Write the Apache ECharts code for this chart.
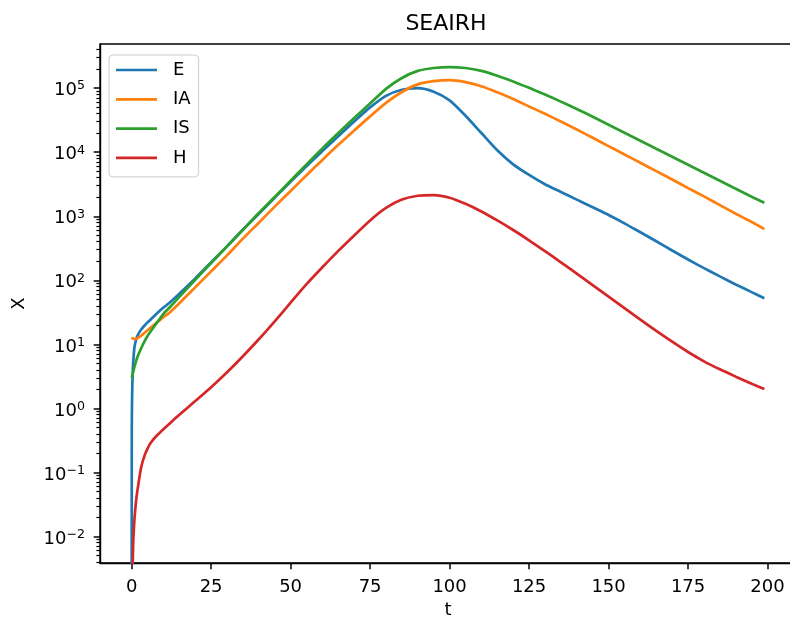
<!DOCTYPE html>
<html><head><meta charset="utf-8">
<script src="https://cdn.jsdelivr.net/npm/echarts@6/dist/echarts.min.js"></script>
<style>html,body{margin:0;padding:0;background:#fff}#c{width:790px;height:617px}</style>
</head><body><div id="c"></div>
<script>
// time points
const t = [0,0.05,0.1,0.2,0.3,0.5,0.8,1,1.5,2,3,4,5,6,8,10,12,15,20,25,30,35,40,45,50,55,60,65,70,75,80,85,90,95,100,105,110,115,120,125,130,135,140,145,150,155,160,165,170,175,180,185,190,195,199];
const seriesNames = ['E','IA','IS','H'];
const E = [0.0001,0.5,1.0,2.1,3.2,5.3,8.3,9.8,12.3,14.2,
  17,19.5,22,24.5,30.5,37.5,45,61.7,
  107,191,339,617,1096,1950,3467,6026,10470,17780,30200,50120,75860,94410,100000,88100,64570,37150,19950,10720,6457,4416,3162,2399,1820,1380,1047,776,562,407,292,211,155,115,86.1,65.3,
  52.5];
const IA = [12.8,12.7,12.6,12.5,12.4,12.3,12.15,12.1,12.2,12.6,
  13.6,15,16.6,18.3,22,26.5,31.5,43.7,
  77.6,138,245,447,794,1413,2483,4365,7586,13030,21880,36310,58880,87100,114800,128800,133400,124500,107200,86100,67610,51880,39810,30200,22650,16790,12450,9226,6839,5070,3758,2754,2042,1496,1096,813,
  631];
const IS = [3.0,3.05,3.1,3.25,3.4,3.7,4.3,4.7,5.7,6.7,
  8.7,11,13.5,16,22,30,38,55,
  102,186,339,617,1122,1995,3589,6457,11480,19950,34280,57540,97720,144500,186200,206500,213800,206500,186200,156700,127400,101200,79430,61660,47320,35890,26920,20180,15140,11350,8511,6383,4786,3589,2692,2018,
  1622];
const H = [0.0001,0.0002,0.0005,0.0015,0.003,0.008,0.016,0.022,0.04,0.06,
  0.12,0.18,0.235,0.29,0.38,0.473,0.582,0.794,
  1.30,2.14,3.67,6.53,12.0,22.9,44.7,87.1,160,288,501,861,1349,1820,2089,2138,1950,1567,1189,861,610,422,285,191,127,84.1,55.6,36.7,24.3,16.2,11.0,7.59,5.43,4.07,3.13,2.43,
  2.0];
// axis ticks
const xTicks = [0,25,50,75,100,125,150,175,200];
const yExponents = [-2,-1,0,1,2,3,4,5];
const xMin = -9.95, xMax = 208.95;
const yMin = 0.00385, yMax = 489800;
const colors = ['#1f77b4','#ff7f0e','#2ca02c','#d62728'];

const FONT = 'DejaVu Sans';
const lmin = Math.log10(yMin), lmax = Math.log10(yMax);
const minorTicks = [];
for (let n = -3; n <= 5; n++) for (let k = 2; k <= 9; k++) {
  const v = n + Math.log10(k);
  if (v > lmin && v < lmax) minorTicks.push(v);
}
const dataSets = [E, IA, IS, H];
const chart = echarts.init(document.getElementById('c'), null, {renderer: 'canvas'});
chart.setOption({
  animation: false,
  backgroundColor: '#fff',
  title: {
    text: 'SEAIRH', left: 446, top: 13, textAlign: 'center', padding: 0,
    textStyle: {fontFamily: FONT, fontSize: 22, fontWeight: 'normal', color: '#000'}
  },
  legend: {
    orient: 'vertical', left: 109, top: 55,
    data: seriesNames,
    icon: 'rect',
    itemWidth: 41, itemHeight: 2.7, itemGap: 11.3,
    padding: [6, 8, 10, 7],
    backgroundColor: 'rgba(255,255,255,0.8)',
    borderColor: '#cccccc', borderWidth: 1, borderRadius: 4,
    textStyle: {fontFamily: FONT, fontSize: 18, lineHeight: 18, color: '#000', padding: [0, 0, 0, 11]}
  },
  grid: {left: 100, top: 44, right: -6, bottom: 54, outerBoundsMode: 'none', containLabel: false,
    show: true, borderColor: '#000', borderWidth: 1.4, backgroundColor: 'transparent'},
  xAxis: {
    type: 'value', min: xMin, max: xMax,
    name: 't', nameLocation: 'middle', nameGap: 36,
    nameTextStyle: {fontFamily: FONT, fontSize: 18, color: '#000'},
    axisLine: {show: true, onZero: false, lineStyle: {color: '#000', width: 1.4}},
    axisTick: {show: true, inside: false, customValues: xTicks, length: 6.3, lineStyle: {color: '#000', width: 1.5}},
    axisLabel: {customValues: xTicks, margin: 15, fontFamily: FONT, fontSize: 18, color: '#000'},
    splitLine: {show: false}
  },
  yAxis: [
    {
      type: 'log', logBase: 10, min: yMin, max: yMax, position: 'left',
      axisLine: {show: true, onZero: false, lineStyle: {color: '#000', width: 1.4}},
      axisTick: {show: false}, axisLabel: {show: false}, splitLine: {show: false}, minorTick: {show: false}
    },
    {
      type: 'value', min: lmin, max: lmax, position: 'left', offset: 0,
      name: 'X', nameLocation: 'middle', nameGap: 72, nameRotate: 90,
      nameTextStyle: {fontFamily: FONT, fontSize: 18, color: '#000'},
      axisLine: {show: false, onZero: false},
      axisTick: {show: true, inside: false, customValues: yExponents, length: 6.3, lineStyle: {color: '#000', width: 1.5}},
      axisLabel: {
        customValues: yExponents, margin: 15, padding: [5, 0, 0, 0],
        formatter: function (v) { const n = Math.round(v); return '{b|10}{s|' + (n < 0 ? '\u2212' + (-n) : n) + '}'; },
        rich: {
          b: {fontFamily: FONT, fontSize: 18, lineHeight: 22, color: '#000'},
          s: {fontFamily: FONT, fontSize: 12.6, lineHeight: 10, verticalAlign: 'top', color: '#000'}
        }
      },
      splitLine: {show: false}
    },
    {
      type: 'value', min: lmin, max: lmax, position: 'left', offset: 0,
      axisLine: {show: false, onZero: false},
      axisTick: {show: true, inside: false, customValues: minorTicks, length: 3.6, lineStyle: {color: '#000', width: 1.2}},
      axisLabel: {show: false, customValues: minorTicks},
      splitLine: {show: false}
    }
  ],
  series: dataSets.map((arr, i) => ({
    name: seriesNames[i], type: 'line', xAxisIndex: 0, yAxisIndex: 0,
    data: t.map((x, j) => [x, arr[j]]),
    symbol: 'none', showSymbol: false, smooth: 0.25,
    clip: true,
    lineStyle: {color: colors[i], width: 2.7},
    itemStyle: {color: colors[i]}
  }))
});
</script></body></html>
